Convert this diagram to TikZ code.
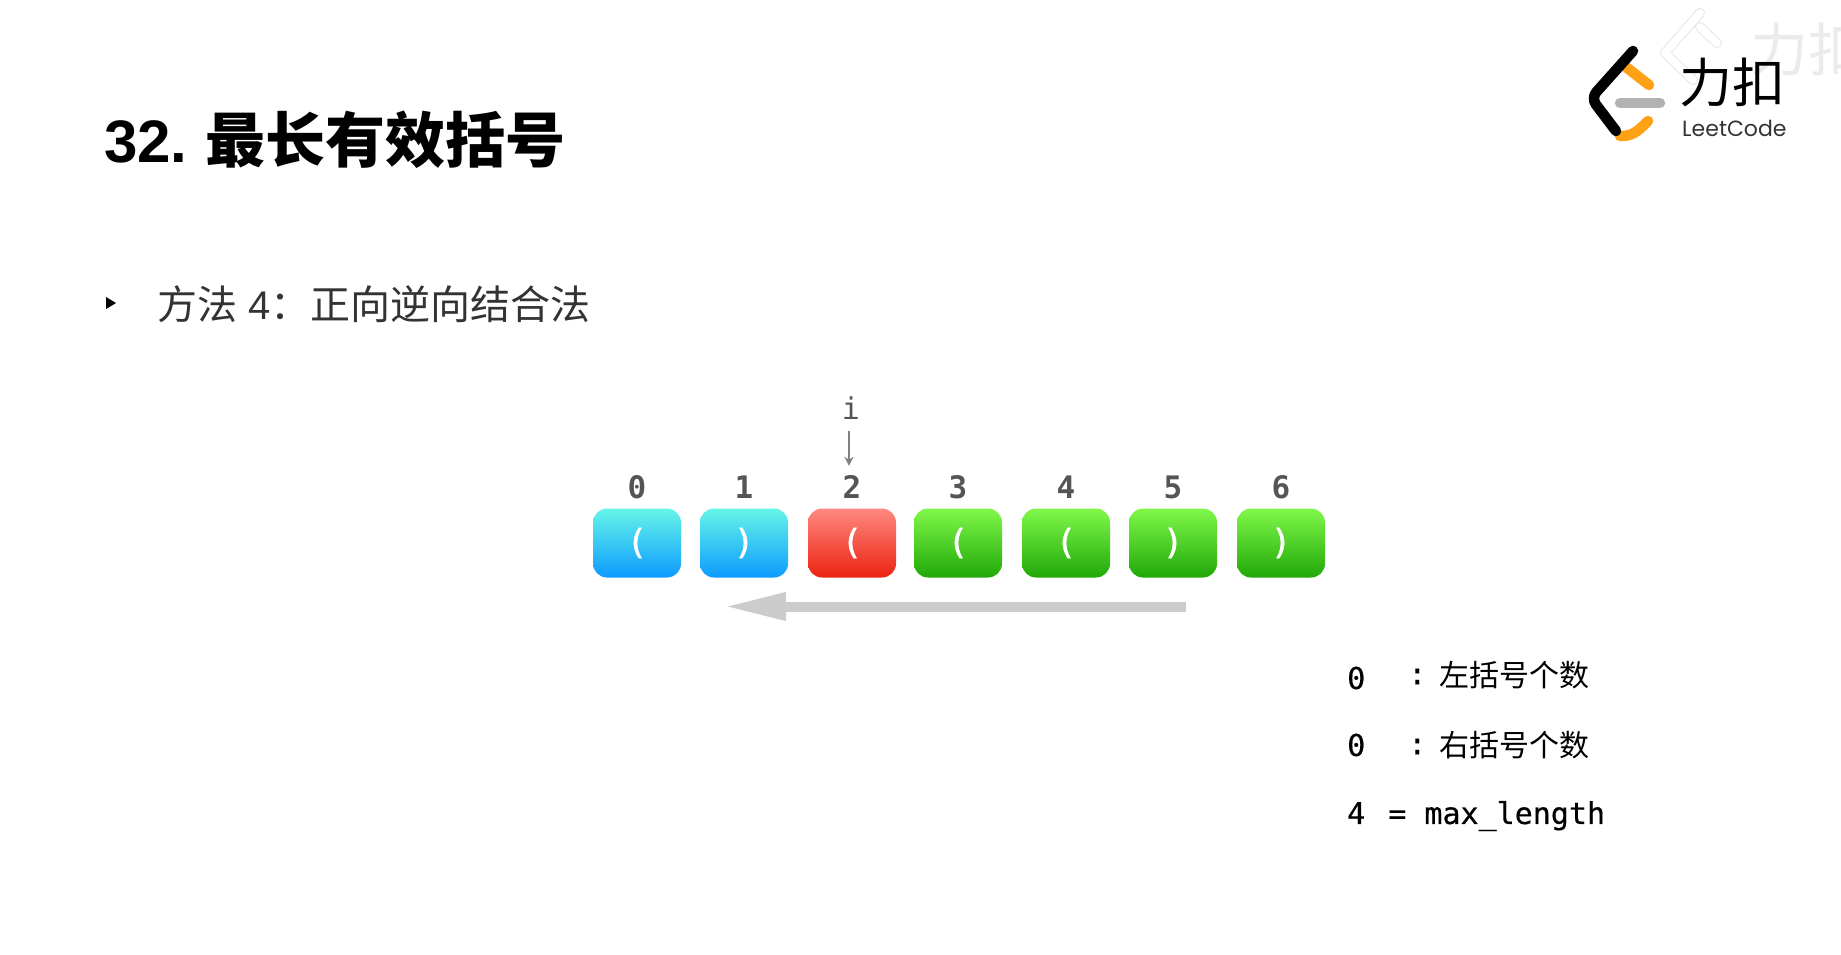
\documentclass[tikz,border=0pt]{standalone}
\usepackage{xcolor}
\usepackage{fontspec}
\setmainfont{Liberation Sans}
\setmonofont{DejaVu Sans Mono}
\newfontfamily\cjk{Noto Sans CJK SC}
\newfontfamily\logofont{Poppins}
\newfontfamily\brkfont[FakeBold=1.5]{DejaVu Sans Mono}
\newfontfamily\notefont[FakeBold=0.5]{DejaVu Sans Mono}
\usetikzlibrary{arrows.meta, positioning}
\definecolor{cyantop}{HTML}{66F5E8}
\definecolor{cyanbot}{HTML}{0C9BFF}
\definecolor{redtop}{HTML}{FF8880}
\definecolor{redbot}{HTML}{EB2310}
\definecolor{greentop}{HTML}{80F84A}
\definecolor{greenbot}{HTML}{20A808}
\definecolor{inkgray}{HTML}{555555}
\definecolor{leetorange}{HTML}{FFA116}
\begin{document}
\begin{tikzpicture}[
    x=1pt, y=-1pt,
    cellbase/.style={rectangle, rounded corners=14pt, minimum width=88pt, minimum height=69pt, inner sep=0pt, text=white, font=\fontsize{34}{34}\selectfont\brkfont},
    cellcyan/.style={cellbase, top color=cyantop, bottom color=cyanbot},
    cellred/.style={cellbase, top color=redtop, bottom color=redbot},
    cellgreen/.style={cellbase, top color=greentop, bottom color=greenbot},
    idxlabel/.style={inner sep=0pt, text=inkgray, font=\fontsize{31}{31}\selectfont\ttfamily\bfseries},
    notetext/.style={anchor=west, inner sep=0pt, font=\fontsize{30}{30}\selectfont\notefont},
    arrgray/.style={-{Stealth[length=9pt,width=9pt]}, line width=1.6pt, gray},
    arrsweep/.style={-{Triangle[length=62pt,width=26pt]}, line width=10pt, black!20},
    logostroke/.style={line width=10.5pt, line cap=round, line join=round},
    markstroke/.style={line width=8pt, line cap=round, line join=round, white},
    markedge/.style={line width=10pt, line cap=round, line join=round, black!10},
  ]
    \useasboundingbox (0,0) rectangle (1841,954);
    \node[anchor=base west, inner sep=0pt, font=\fontsize{60}{60}\selectfont\bfseries] (title) at (104,162) {32.\hspace{17.5pt}{\cjk\bfseries 最长有效括号}};
    \fill (106,297) -- (116,303) -- (106,309) -- cycle;
    \node[anchor=base west, inner sep=0pt, text=black!80, font=\fontsize{40}{40}\selectfont] (method) at (157,319) {{\cjk 方法} 4{\cjk ：正向逆向结合法}};
    % array cells
    \foreach \idx/\cx/\kind/\brk in {0/637/cellcyan/(, 1/744/cellcyan/), 2/852/cellred/(, 3/958/cellgreen/(, 4/1066/cellgreen/(, 5/1173/cellgreen/), 6/1281/cellgreen/)} {
      \node[\kind] (cell\idx) at (\cx,543) {\raisebox{-2.5pt}{\brk}};
      \node[idxlabel, anchor=base] (idx\idx) at (\cx,498) {\idx};
    }
    \node[anchor=base, inner sep=0pt, text=inkgray, font=\fontsize{30}{30}\selectfont\ttfamily] (ptr) at (851,419) {i};
    \draw[arrgray, shorten <=12pt, shorten >=9pt] ([xshift=-2pt]ptr.south) -- ([xshift=-3pt]idx2.north);
    \coordinate (sweepstart) at (1186,606.5);
    \coordinate (sweepend) at (724,606.5);
    \draw[arrsweep] (sweepstart) -- (sweepend);
    % counters
    \node[notetext] (leftval) at (1347,678) {0};
    \node[notetext] (leftnote) at (1408,675) {\raisebox{2pt}{:}\hspace{.44em}{\cjk 左括号个数}};
    \node[notetext] (rightval) at (1347,745) {0};
    \node[notetext] (rightnote) at (1408,745) {\raisebox{2pt}{:}\hspace{.44em}{\cjk 右括号个数}};
    \node[notetext] (maxlen) at (1347,816) {4\hspace{5pt} = max\_length};
    % faded mark
    \draw[markedge] (1700,13) -- (1665,53) -- (1693,80);
    \draw[markedge] (1700,27) -- (1717,43);
    \draw[markstroke] (1700,13) -- (1665,53) -- (1693,80);
    \draw[markstroke] (1700,27) -- (1717,43);
    \node[anchor=west, inner sep=0pt, text=black!8, font=\fontsize{58}{58}\selectfont\cjk] (markname) at (1750,50) {力扣};
    % logo
    \draw[logostroke, leetorange] (1626,67) -- (1649,85);
    \draw[logostroke, leetorange] (1648,121) .. controls (1636,133) and (1632,136) .. (1620,136);
    \draw[logostroke, black!30] (1620,103) -- (1660,103);
    \draw[logostroke, black, rounded corners=8pt] (1633,51) -- (1591,98) -- (1616,131);
    \node[anchor=west, inner sep=0pt, font=\fontsize{53}{53}\selectfont\cjk] (brand) at (1679,82) {力扣};
    \node[anchor=west, inner sep=0pt, text=black!80, font=\fontsize{22}{22}\selectfont\logofont] (brandsub) at (1682,128) {LeetCode};
  \end{tikzpicture}
\end{document}
